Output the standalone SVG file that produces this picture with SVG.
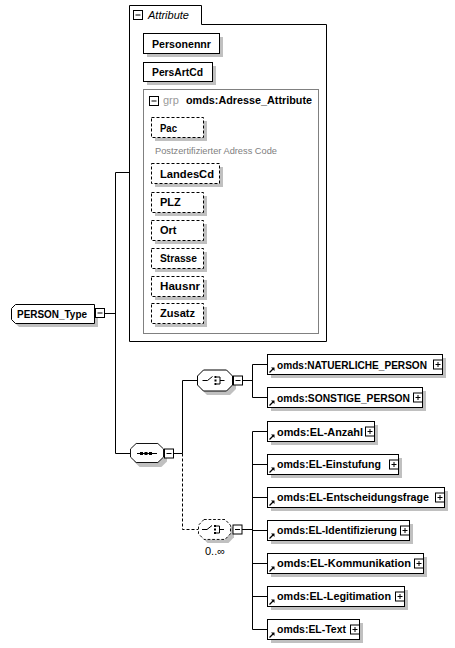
<svg xmlns="http://www.w3.org/2000/svg" xmlns:xlink="http://www.w3.org/1999/xlink" width="455" height="648" viewBox="0 0 455 648">
<style>
.bg{fill:#fff}
.box{fill:#fff;stroke:#000;stroke-width:1}
.opt{fill:#fff;stroke:#000;stroke-width:1;stroke-dasharray:3,2}
.sh{fill:#c0c0c0}
.ln{stroke:#000;stroke-width:1;fill:none}
.dl{stroke:#000;stroke-width:1;fill:none;stroke-dasharray:3,2}
.lbl{font-family:"Liberation Sans",Arial,sans-serif;font-weight:bold;font-size:11px;fill:#000}
.reg{font-family:"Liberation Sans",Arial,sans-serif;font-size:11px;fill:#000}
.grp{font-family:"Liberation Sans",Arial,sans-serif;font-size:11px;fill:#9a9a9a}
.desc{font-family:"Liberation Sans",Arial,sans-serif;font-size:9px;fill:#808080}
.gbox{fill:#fff;stroke:#808080;stroke-width:1}
</style>
<defs>
<g id="minus"><rect x="0.5" y="0.5" width="9" height="9" fill="#fff" stroke="#000"/><path d="M2.5,5H7.5" stroke="#000" stroke-width="1"/></g>
<g id="plus"><rect x="0.5" y="0.5" width="9" height="9" fill="#fff" stroke="#000"/><path d="M2.5,5H7.5M5,2.5V7.5" stroke="#000" stroke-width="1"/></g>
<g id="ref"><path d="M0.5,5.5L4,2" stroke="#000" stroke-width="1.2"/><polygon points="2,0.5 5.5,0.5 5.5,4" fill="#000"/></g>
<path id="comp" d="M6,0H29L35,6V15L29,21H6L0,15V6Z"/>
<g id="chsym"><path d="M5,10.5H10L15,6.5" stroke="#000" fill="none"/><rect x="17" y="6" width="2" height="2" fill="#000"/><rect x="17" y="9.5" width="2" height="2" fill="#000"/><rect x="17" y="13" width="2" height="2" fill="#000"/><path d="M19,7H22.5V14H19M22.5,10.5H27" stroke="#000" fill="none"/></g>
</defs>
<rect class="bg" x="0" y="0" width="455" height="648"/>

<g id="connectors">
<path class="ln" d="M104.5,313.5H115.5M115.5,172.5H129.5M115.5,172.5V453.5H130"/>
<path class="ln" d="M174,453.5H182.5M182.5,380.5V453.5M182.5,380.5H197"/>
<path class="dl" d="M182.5,453.5V529.5H198"/>
<path class="ln" d="M243,380.5H252.5M252.5,364.5V397.5M252.5,364.5H267M252.5,397.5H267"/>
<path class="ln" d="M242,529.5H252.5M252.5,431.5V629.5M252.5,431.5H267M252.5,464.5H267M252.5,497.5H267M252.5,530.5H267M252.5,563.5H267M252.5,596.5H267M252.5,629.5H267"/>
</g>

<g id="PERSON_Type">
<path class="sh" d="M19,308H98V327H19L15,323V312Z"/>
<path class="box" d="M15.5,304.5H94.5V323.5H15.5L11.5,319.5V308.5Z"/>
<text class="lbl" x="17" y="317.5" textLength="70" lengthAdjust="spacingAndGlyphs">PERSON_Type</text>
<use href="#minus" x="95" y="308"/>
</g>

<g id="Attribute">
<path class="box" d="M129.5,341.5V5.5H201.5V24.5H326.5V341.5Z"/>
<use href="#minus" x="133" y="10"/>
<text class="reg" x="148" y="19" font-style="italic">Attribute</text>
</g>

<g id="Personennr">
<rect class="sh" x="147" y="37" width="76" height="20"/>
<rect class="box" x="143.5" y="33.5" width="76" height="20"/>
<text class="lbl" x="152" y="48" textLength="59" lengthAdjust="spacingAndGlyphs">Personennr</text>
</g>
<g id="PersArtCd">
<rect class="sh" x="147" y="66" width="69" height="19"/>
<rect class="box" x="143.5" y="62.5" width="69" height="19"/>
<text class="lbl" x="152" y="76" textLength="51" lengthAdjust="spacingAndGlyphs">PersArtCd</text>
</g>

<g id="Adresse_Attribute">
<rect class="gbox" x="143.5" y="89.5" width="175" height="244"/>
<use href="#minus" x="149" y="96"/>
<text class="grp" x="163" y="104">grp</text>
<text class="lbl" x="186" y="104" textLength="126" lengthAdjust="spacingAndGlyphs">omds:Adresse_Attribute</text>
</g>

<g id="Pac">
<rect class="sh" x="155" y="121" width="52" height="20"/>
<rect class="opt" x="151.5" y="117.5" width="52" height="20"/>
<text class="lbl" x="160" y="132" textLength="17" lengthAdjust="spacingAndGlyphs">Pac</text>
<text class="desc" x="155" y="154" textLength="122" lengthAdjust="spacingAndGlyphs">Postzertifizierter Adress Code</text>
</g>
<g id="LandesCd">
<rect class="sh" x="155" y="167" width="68" height="20"/>
<rect class="opt" x="151.5" y="163.5" width="68" height="20"/>
<text class="lbl" x="160" y="178" textLength="54" lengthAdjust="spacingAndGlyphs">LandesCd</text>
</g>
<g id="PLZ">
<rect class="sh" x="155" y="196" width="52" height="20"/>
<rect class="opt" x="151.5" y="192.5" width="52" height="20"/>
<text class="lbl" x="160" y="206">PLZ</text>
</g>
<g id="Ort">
<rect class="sh" x="155" y="224" width="52" height="20"/>
<rect class="opt" x="151.5" y="220.5" width="52" height="20"/>
<text class="lbl" x="160" y="234">Ort</text>
</g>
<g id="Strasse">
<rect class="sh" x="155" y="252" width="52" height="20"/>
<rect class="opt" x="151.5" y="248.5" width="52" height="20"/>
<text class="lbl" x="160" y="262" textLength="37" lengthAdjust="spacingAndGlyphs">Strasse</text>
</g>
<g id="Hausnr">
<rect class="sh" x="155" y="280" width="52" height="20"/>
<rect class="opt" x="151.5" y="276.5" width="52" height="20"/>
<text class="lbl" x="160" y="290" textLength="40" lengthAdjust="spacingAndGlyphs">Hausnr</text>
</g>
<g id="Zusatz">
<rect class="sh" x="155" y="307" width="52" height="20"/>
<rect class="opt" x="151.5" y="303.5" width="52" height="20"/>
<text class="lbl" x="160" y="317" textLength="35" lengthAdjust="spacingAndGlyphs">Zusatz</text>
</g>

<g id="sequence">
<use href="#comp" class="sh" transform="translate(134,448) scale(0.943,0.905)"/>
<use href="#comp" class="box" transform="translate(130.5,443.5) scale(0.943,0.905)"/>
<path class="ln" d="M137,453.5H157"/>
<rect x="140" y="452" width="3" height="3"/>
<rect x="144.5" y="452" width="3" height="3"/>
<rect x="149" y="452" width="3" height="3"/>
<use href="#minus" x="164" y="448.5"/>
</g>

<g id="choice1">
<use href="#comp" class="sh" x="201" y="374"/>
<use href="#comp" class="box" x="197.5" y="370"/>
<use href="#chsym" x="197.5" y="370"/>
<use href="#minus" x="233" y="375.5"/>
</g>

<g id="choice2">
<use href="#comp" class="sh" transform="translate(202,523) scale(0.914,0.95)"/>
<use href="#comp" class="opt" transform="translate(198.5,519.5) scale(0.914,0.95)"/>
<use href="#chsym" x="197" y="519"/>
<use href="#minus" x="232.5" y="524.5"/>
<text class="reg" x="205" y="555">0..∞</text>
</g>

<g id="NATUERLICHE_PERSON">
<rect class="sh" x="271" y="358" width="175" height="20"/>
<rect class="box" x="267.5" y="354.5" width="175" height="20"/>
<use href="#ref" x="269" y="367"/>
<text class="lbl" x="277" y="369" textLength="150" lengthAdjust="spacingAndGlyphs">omds:NATUERLICHE_PERSON</text>
<use href="#plus" x="433" y="359.5"/>
</g>
<g id="SONSTIGE_PERSON">
<rect class="sh" x="271" y="391" width="155" height="20"/>
<rect class="box" x="267.5" y="387.5" width="155" height="20"/>
<use href="#ref" x="269" y="400"/>
<text class="lbl" x="277" y="402" textLength="133" lengthAdjust="spacingAndGlyphs">omds:SONSTIGE_PERSON</text>
<use href="#plus" x="413" y="392.5"/>
</g>
<g id="EL-Anzahl">
<rect class="sh" x="271" y="425" width="107" height="20"/>
<rect class="box" x="267.5" y="421.5" width="107" height="20"/>
<use href="#ref" x="269" y="434"/>
<text class="lbl" x="277" y="436" textLength="86" lengthAdjust="spacingAndGlyphs">omds:EL-Anzahl</text>
<use href="#plus" x="365" y="426.5"/>
</g>
<g id="EL-Einstufung">
<rect class="sh" x="271" y="458" width="131" height="20"/>
<rect class="box" x="267.5" y="454.5" width="131" height="20"/>
<use href="#ref" x="269" y="467"/>
<text class="lbl" x="277" y="468" textLength="104" lengthAdjust="spacingAndGlyphs">omds:EL-Einstufung</text>
<use href="#plus" x="389" y="459.5"/>
</g>
<g id="EL-Entscheidungsfrage">
<rect class="sh" x="271" y="491" width="177" height="20"/>
<rect class="box" x="267.5" y="487.5" width="177" height="20"/>
<use href="#ref" x="269" y="500"/>
<text class="lbl" x="277" y="501" textLength="152" lengthAdjust="spacingAndGlyphs">omds:EL-Entscheidungsfrage</text>
<use href="#plus" x="435" y="492.5"/>
</g>
<g id="EL-Identifizierung">
<rect class="sh" x="271" y="524" width="142" height="20"/>
<rect class="box" x="267.5" y="520.5" width="142" height="20"/>
<use href="#ref" x="269" y="533"/>
<text class="lbl" x="277" y="534" textLength="120" lengthAdjust="spacingAndGlyphs">omds:EL-Identifizierung</text>
<use href="#plus" x="400" y="525.5"/>
</g>
<g id="EL-Kommunikation">
<rect class="sh" x="271" y="557" width="156" height="20"/>
<rect class="box" x="267.5" y="553.5" width="156" height="20"/>
<use href="#ref" x="269" y="566"/>
<text class="lbl" x="277" y="567" textLength="134" lengthAdjust="spacingAndGlyphs">omds:EL-Kommunikation</text>
<use href="#plus" x="414" y="558.5"/>
</g>
<g id="EL-Legitimation">
<rect class="sh" x="271" y="590" width="137" height="20"/>
<rect class="box" x="267.5" y="586.5" width="137" height="20"/>
<use href="#ref" x="269" y="599"/>
<text class="lbl" x="277" y="600" textLength="114" lengthAdjust="spacingAndGlyphs">omds:EL-Legitimation</text>
<use href="#plus" x="395" y="591.5"/>
</g>
<g id="EL-Text">
<rect class="sh" x="271" y="623" width="92" height="20"/>
<rect class="box" x="267.5" y="619.5" width="92" height="20"/>
<use href="#ref" x="269" y="632"/>
<text class="lbl" x="277" y="633" textLength="69" lengthAdjust="spacingAndGlyphs">omds:EL-Text</text>
<use href="#plus" x="350" y="624.5"/>
</g>
</svg>
